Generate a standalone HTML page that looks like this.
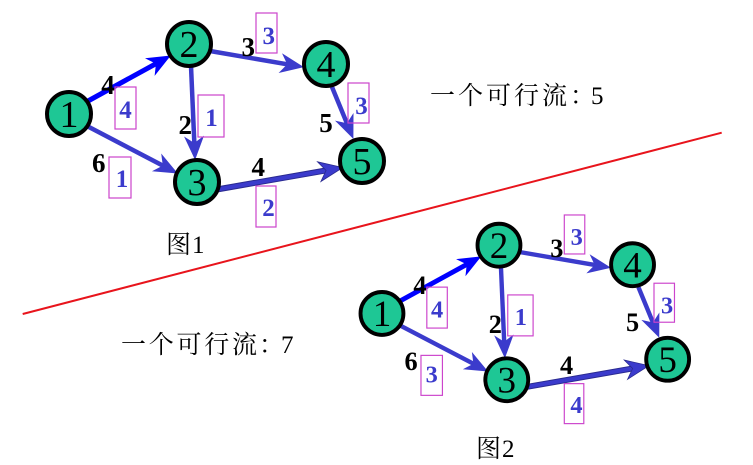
<!DOCTYPE html>
<html>
<head>
<meta charset="utf-8">
<style>
  html,body{margin:0;padding:0;background:#fff;}
  svg{display:block;}
  .node{fill:#1ec795;stroke:#000;stroke-width:4;}
  .nd{font-family:"Liberation Serif",serif;font-size:38px;fill:#000;text-anchor:middle;}
  .bl{font-family:"Liberation Serif",serif;font-size:27px;font-weight:bold;fill:#000;text-anchor:middle;}
  .bx{fill:none;stroke:#cc44cc;stroke-width:1.2;}
  .bt{font-family:"Liberation Serif",serif;font-size:25px;font-weight:bold;fill:#3b3bcc;text-anchor:middle;}
  .cn{font-family:"Liberation Serif","Noto Serif CJK SC",serif;font-size:25px;fill:#000;}
  .e{stroke:#3b3bcc;stroke-width:4.5;fill:none;}
</style>
</head>
<body>
<svg width="753" height="465" viewBox="0 0 753 465" xmlns="http://www.w3.org/2000/svg">
  <defs>
    <marker id="ab" markerUnits="userSpaceOnUse" markerWidth="26" markerHeight="22" refX="13" refY="10" orient="auto">
      <path d="M0,0 L24,10 L0,20 L7,10 Z" fill="#3b3bcc"/>
    </marker>
    <marker id="ap" markerUnits="userSpaceOnUse" markerWidth="26" markerHeight="22" refX="13" refY="10" orient="auto">
      <path d="M0,0 L24,10 L0,20 L7,10 Z" fill="#0000ff"/>
    </marker>
    <marker id="ad" markerUnits="userSpaceOnUse" markerWidth="28" markerHeight="24" refX="13" refY="11" orient="auto">
      <path d="M1,1 L25,11 L1,21 L8,11 Z" fill="#3b3bcc" stroke="#2a2a90" stroke-width="0.8"/>
    </marker>
    <g id="edges">
      <line x1="88" y1="101" x2="161.2" y2="60.8" stroke="#0000ff" stroke-width="5" marker-end="url(#ap)"/>
      <line class="e" x1="87" y1="126" x2="168.1" y2="168.4" marker-end="url(#ab)"/>
      <line class="e" x1="191" y1="66" x2="194.6" y2="149" marker-end="url(#ab)"/>
      <line class="e" x1="210" y1="51" x2="293.1" y2="65.3" marker-end="url(#ab)"/>
      <line class="e" x1="332" y1="87" x2="349.2" y2="128.8" marker-end="url(#ab)"/>
      <line x1="214" y1="190" x2="330.1" y2="169.7" stroke="#2a2a90" stroke-width="6"/>
      <line x1="215" y1="189.8" x2="331" y2="169.6" stroke="#3b3bcc" stroke-width="4" marker-end="url(#ad)"/>
    </g>
    <g id="nodes">
      <circle class="node" cx="69" cy="114" r="22"/>
      <text class="nd" x="69" y="127">1</text>
      <circle class="node" cx="189" cy="44" r="22"/>
      <text class="nd" x="189" y="57">2</text>
      <circle class="node" cx="197" cy="182" r="22"/>
      <text class="nd" x="197" y="195">3</text>
      <circle class="node" cx="326" cy="64" r="22"/>
      <text class="nd" x="326" y="77">4</text>
      <circle class="node" cx="362" cy="161" r="22"/>
      <text class="nd" x="362" y="174">5</text>
    </g>
    <g id="common">
      <text class="bl" x="108" y="94">4</text>
      <text class="bl" x="185.3" y="134">2</text>
      <text class="bl" x="98.8" y="172">6</text>
      <text class="bl" x="248.3" y="56">3</text>
      <text class="bl" x="326" y="132">5</text>
      <text class="bl" x="258.3" y="176">4</text>
      <rect class="bx" x="115" y="87" width="21" height="42"/>
      <text class="bt" x="125.5" y="118">4</text>
      <rect class="bx" x="198" y="95" width="26" height="42"/>
      <text class="bt" x="211.5" y="126">1</text>
      <rect class="bx" x="109" y="157" width="22" height="41"/>
      <rect class="bx" x="256" y="13" width="21" height="40"/>
      <text class="bt" x="268.8" y="44">3</text>
      <rect class="bx" x="348" y="83" width="21" height="40"/>
      <text class="bt" x="361.5" y="114">3</text>
      <rect class="bx" x="256" y="186" width="20" height="41"/>
    </g>
  </defs>

  <!-- red divider -->
  <line x1="22.7" y1="314" x2="721.7" y2="132.7" stroke="#e8141c" stroke-width="2"/>

  <!-- Graph 1 -->
  <g>
    <use href="#edges"/>
    <use href="#nodes"/>
    <use href="#common"/>
    <text class="bt" x="122" y="187">1</text>
    <text class="bt" x="268.5" y="216">2</text>
  </g>

  <!-- Graph 2 -->
  <g transform="matrix(0.975,0,0,0.975,314.7,202.3)">
    <use href="#edges"/>
    <use href="#nodes"/>
    <use href="#common"/>
    <text class="bt" x="120" y="185">3</text>
    <text class="bt" x="268.5" y="216">4</text>
  </g>

  <!-- captions -->
  <text class="cn" x="430" y="104" textLength="137" lengthAdjust="spacing">一个可行流</text>
  <text class="cn" x="570" y="104">：</text>
  <text class="cn" x="591" y="104">5</text>

  <text class="cn" x="121" y="353" textLength="136" lengthAdjust="spacing">一个可行流</text>
  <text class="cn" x="259" y="353">：</text>
  <text class="cn" x="281" y="353">7</text>

  <text class="cn" x="166" y="253">图</text>
  <text class="cn" x="192" y="253">1</text>
  <text class="cn" x="476" y="457">图</text>
  <text class="cn" x="502" y="457">2</text>
</svg>
</body>
</html>
